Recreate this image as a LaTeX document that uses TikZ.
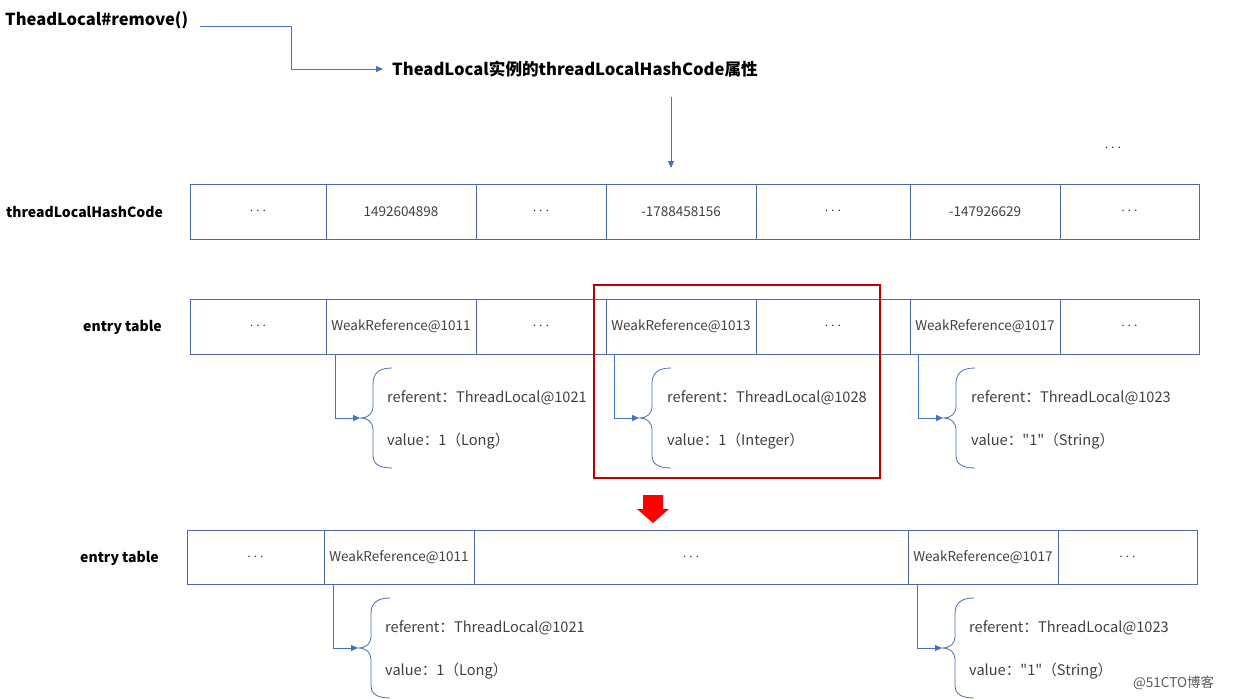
\documentclass[tikz,border=0pt]{standalone}
\usepackage{fontspec}
\setmainfont{Noto Sans CJK SC}
\newfontfamily\nfont{Noto Sans CJK SC}[Ligatures=TeXOff]
\usetikzlibrary{arrows.meta}
\definecolor{tblc}{HTML}{4A6BA8}
\definecolor{arrc}{HTML}{4472C4}
\definecolor{txtc}{HTML}{404040}
\definecolor{redbox}{HTML}{C00000}
\tikzset{
  cell/.style={draw=tblc, line width=0.8pt, minimum height=55pt, inner sep=0pt, text=txtc, font=\fontsize{13.5}{15}\selectfont},
  lbl/.style={font=\bfseries\fontsize{14}{16}\selectfont, text=black, inner sep=0pt},
  ttl/.style={font=\bfseries\fontsize{16.5}{19}\selectfont, text=black, inner sep=0pt},
  btxt/.style={anchor=west, inner sep=0pt, text=txtc, font=\fontsize{14.6}{16}\selectfont},
  conn/.style={draw=arrc, line width=0.8pt},
  arr/.style={conn, -{Triangle[length=7pt,width=6pt]}},
  brc/.style={draw=tblc, line width=0.8pt},
}
\newcommand{\dotsc}{{\fontsize{15.5}{15}\selectfont\color{black!85}$\cdots$}}
\newcommand{\qone}{{\nfont"1"}}
\begin{document}
\begin{tikzpicture}[x=1pt,y=-1pt]
\useasboundingbox (0,0) rectangle (1240,699);
% title
\node[ttl, anchor=west] (t1) at (5,20) {TheadLocal\#remove()};
\node[ttl, anchor=west, font=\bfseries\fontsize{16.6}{18}\selectfont] (t2) at (392,69) {TheadLocal实例的threadLocalHashCode属性};
\coordinate (t1e) at (200,26);
\coordinate (t1b) at (291,26);
\coordinate (t1c) at (291,69);
\draw[arr, shorten >=9pt] (t1e) -- (t1b) -- (t1c) -- (t2.west);
\coordinate (a1s) at (671,97);
\coordinate (a1e) at (671,168);
\draw[arr] (a1s) -- (a1e);
\node[inner sep=0pt] (topdots) at (1113,148) {\dotsc};

% row 1
\node[lbl, anchor=west] (l1) at (6,212) {threadLocalHashCode};
\node[cell, minimum width=136pt] (h1) at (258,211.5) {\dotsc};
\node[cell, minimum width=150pt] (h2) at (401,211.5) {1492604898};
\node[cell, minimum width=130pt] (h3) at (541,211.5) {\dotsc};
\node[cell, minimum width=150pt] (h4) at (681,211.5) {-1788458156};
\node[cell, minimum width=154pt] (h5) at (833,211.5) {\dotsc};
\node[cell, minimum width=150pt] (h6) at (985,211.5) {-147926629};
\node[cell, minimum width=139pt] (h7) at (1129.5,211.5) {\dotsc};

% row 2
\node[lbl, anchor=west] (l2) at (83,327) {entry table};
\node[cell, minimum width=136pt] (e1) at (258,326.5) {\dotsc};
\node[cell, minimum width=150pt] (e2) at (401,326.5) {WeakReference@1011};
\node[cell, minimum width=130pt] (e3) at (541,326.5) {\dotsc};
\node[cell, minimum width=150pt] (e4) at (681,326.5) {WeakReference@1013};
\node[cell, minimum width=154pt] (e5) at (833,326.5) {\dotsc};
\node[cell, minimum width=150pt] (e6) at (985,326.5) {WeakReference@1017};
\node[cell, minimum width=139pt] (e7) at (1129.5,326.5) {\dotsc};

% row 3
\node[lbl, anchor=west] (l3) at (80,558) {entry table};
\node[cell, minimum width=137pt, minimum height=54pt] (f1) at (255.5,557) {\dotsc};
\node[cell, minimum width=150pt, minimum height=54pt] (f2) at (399,557) {WeakReference@1011};
\node[cell, minimum width=434pt, minimum height=54pt] (f3) at (691,557) {\dotsc};
\node[cell, minimum width=150pt, minimum height=54pt] (f4) at (983,557) {WeakReference@1017};
\node[cell, minimum width=139pt, minimum height=54pt] (f5) at (1127.5,557) {\dotsc};

% braces
\newcommand{\bracegroup}[8]{%
  \coordinate (#6s) at (#1,#2);
  \coordinate (#6c) at (#1,#4);
  \coordinate (#6t) at (#3-13,#4);
  \draw[conn, -{Triangle[length=7pt,width=6pt]}] (#6s) -- (#6c) -- (#6t);
  \draw[brc] (#3+19,#4-50) .. controls (#3+5,#4-50) and (#3,#4-44) .. (#3,#4-34)
     -- (#3,#4-12) .. controls (#3,#4-4) and (#3-5,#4) .. (#3-13,#4)
     .. controls (#3-5,#4) and (#3,#4+4) .. (#3,#4+12)
     -- (#3,#4+38) .. controls (#3,#4+45) and (#3+5,#4+50) .. (#3+19,#4+50);
  \node[btxt] (#6a) at (#5,398-418+#4) {#7};
  \node[btxt] (#6b) at (#5,441-418+#4) {#8};
}
\bracegroup{335}{354}{373}{418}{387}{g1}{referent：ThreadLocal@1021}{value：1（Long）}
\bracegroup{614}{354}{652}{418}{667}{g2}{referent：ThreadLocal@1028}{value：1（Integer）}
\bracegroup{918}{354}{956}{418}{971}{g3}{referent：ThreadLocal@1023}{value：\qone（String）}
\bracegroup{333}{584}{371}{648}{385}{g4}{referent：ThreadLocal@1021}{value：1（Long）}
\bracegroup{917}{584}{955}{648}{969}{g5}{referent：ThreadLocal@1023}{value：\qone（String）}

% red box
\draw[redbox, line width=2.4pt] (594,285) rectangle (880,478);
% red block arrow
\fill[red] (643,495) -- (663,495) -- (663,509) -- (669,509) -- (653,523) -- (637,509) -- (643,509) -- cycle;

% watermark
\node[anchor=west, inner sep=0pt, text=black!65, font=\fontsize{13.5}{15}\selectfont] (wm) at (1133,683) {@51CTO博客};
\end{tikzpicture}
\end{document}
